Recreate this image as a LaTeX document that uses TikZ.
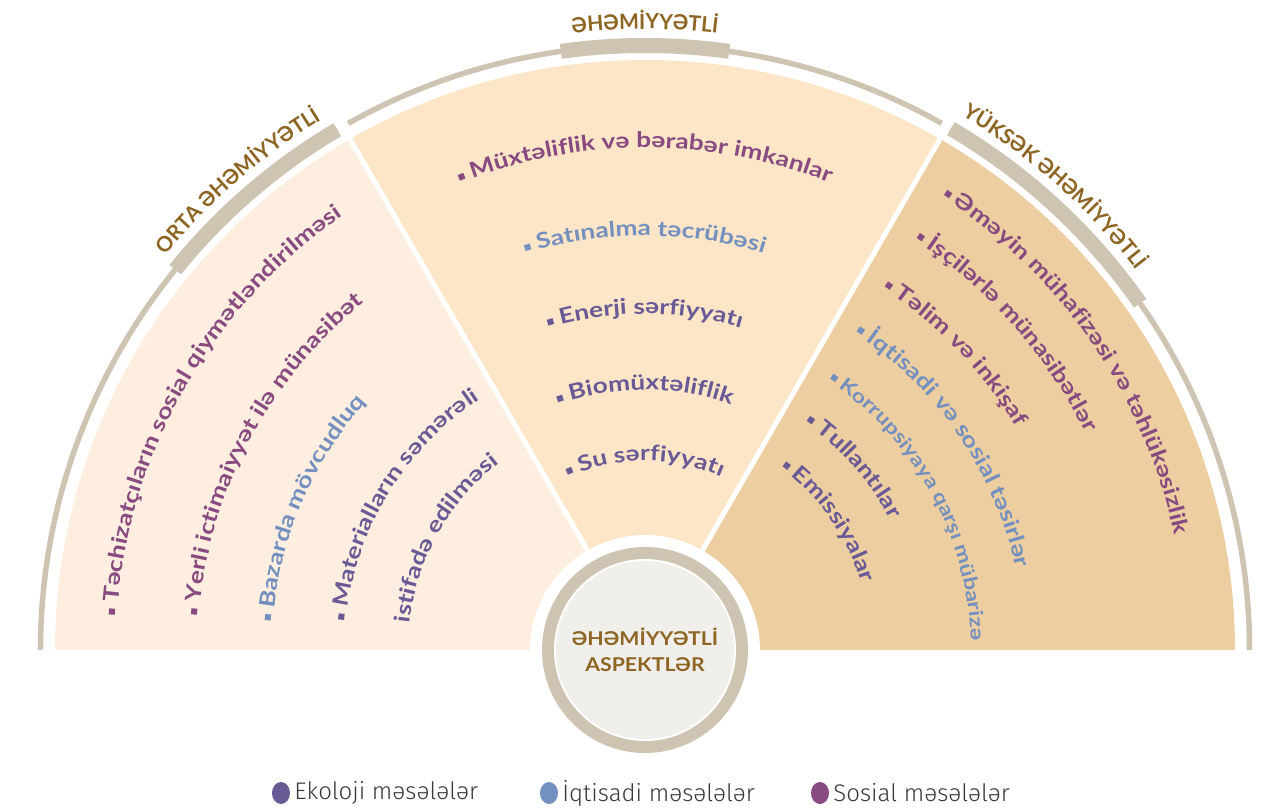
\documentclass[tikz,border=0pt]{standalone}
\usepackage{fontspec}
\setmainfont{Lato}
\newfontfamily\lato{Lato}
\newfontfamily\itemfam{Lato}[FakeStretch=1.22]
\newfontfamily\hubfam{Lato}[FakeStretch=1.12]
\newfontfamily\legfont{Fira Sans Light}
\usepackage{tikz}
\usetikzlibrary{decorations.text,shapes.geometric,positioning}
\definecolor{social}{HTML}{884A80}
\definecolor{econ}{HTML}{7490BE}
\definecolor{eco}{HTML}{695A96}
\definecolor{bandgray}{HTML}{CEC4B2}
\definecolor{headbrown}{HTML}{8E6522}
\definecolor{fillleft}{HTML}{FEEEDF}
\definecolor{fillmid}{HTML}{FDE5C7}
\definecolor{fillright}{HTML}{EDCEA0}
\definecolor{hublight}{HTML}{F0EFEB}
\newcommand{\sqb}{\rule[2.5pt]{6pt}{6pt}}
\newcommand{\itemfont}{\itemfam\bfseries\fontsize{21.5}{24}\selectfont}
\newcommand{\smallitemfont}{\itemfam\bfseries\fontsize{19.2}{22}\selectfont}
\newcommand{\headfont}{\lato\bfseries\fontsize{21}{22}\selectfont}

\begin{document}
\begin{tikzpicture}[x=1pt, y=1pt, node distance=4pt]
	\tikzstyle{band} = [draw=bandgray, line width=15pt]
	\tikzstyle{rim} = [draw=bandgray, line width=5.5pt]
	\tikzstyle{item} = [decorate, decoration={text along path, text align=left}]
	\tikzstyle{citem} = [decorate, decoration={text along path, text align=center}]
	\tikzstyle{head} = [decorate, decoration={text along path, text align=center, text color=headbrown}]
	\tikzstyle{dot} = [ellipse, minimum width=18pt, minimum height=22pt, inner sep=0pt]
	\tikzstyle{legend} = [font=\legfont\fontsize{24}{26}\selectfont, text=black!78, inner sep=0pt]
	\useasboundingbox (-645,-159) rectangle (623,650);

	\draw[rim] (180:604.5pt) arc[start angle=180, end angle=120.6, radius=604.5pt];
	\draw[rim] (119.4:604.5pt) arc[start angle=119.4, end angle=60.6, radius=604.5pt];
	\draw[rim] (59.6:604.5pt) arc[start angle=59.6, end angle=0, radius=604.5pt];
	\draw[band] (141:604.5pt) arc[start angle=141, end angle=120.6, radius=604.5pt];
	\draw[band] (98:604.5pt) arc[start angle=98, end angle=82, radius=604.5pt];
	\draw[band] (59.6:604.5pt) arc[start angle=59.6, end angle=35, radius=604.5pt];

	\fill[fillleft] (0,0) -- (120:590pt) arc[start angle=120, end angle=180, radius=590pt] -- cycle;
	\fill[fillmid] (0,0) -- (60:590pt) arc[start angle=60, end angle=120, radius=590pt] -- cycle;
	\fill[fillright] (0,0) -- (0:590pt) arc[start angle=0, end angle=60, radius=590pt] -- cycle;
	\draw[white, line width=5pt] (0,0) -- (120:596pt) (0,0) -- (60:596pt);

	\fill[white] (0,0) circle[radius=115pt];
	\fill[bandgray] (0,0) circle[radius=103pt];
	\fill[white] (0,0) circle[radius=91pt];
	\fill[hublight] (0,0) circle[radius=89pt];
	\node[align=center, text=headbrown, font=\hubfam\bfseries\fontsize{19}{26}\selectfont] (hub) at (0,0) {ƏHƏMİYYƏTLİ\\ASPEKTLƏR};

	\path[head, decoration={text={|\headfont|ORTA ƏHƏMİYYƏTLİ}}] (151:621pt) arc[start angle=151, end angle=111, radius=621pt];
	\path[head, decoration={text={|\headfont|ƏHƏMİYYƏTLİ}}] (110:621pt) arc[start angle=110, end angle=70, radius=621pt];
	\path[head, decoration={text={|\headfont|YÜKSƏK ƏHƏMİYYƏTLİ}}] (68.5:621pt) arc[start angle=68.5, end angle=28.5, radius=621pt];

	\path[item, decoration={text color=social, text={|\itemfont|{\sqb} Təchizatçıların sosial qiymətləndirilməsi}}] (176.2:529pt) arc[start angle=176.2, end angle=105, radius=529pt];
	\path[item, decoration={text color=social, text={|\itemfont|{\sqb} Yerli ictimaiyyət ilə münasibət}}] (175.5:447pt) arc[start angle=175.5, end angle=105, radius=447pt];
	\path[item, decoration={text color=econ, text={|\itemfont|{\sqb} Bazarda mövcudluq}}] (175.5:373pt) arc[start angle=175.5, end angle=105, radius=373pt];
	\path[item, decoration={text color=eco, text={|\itemfont|{\sqb} Materialların səmərəli}}] (174.3:300pt) arc[start angle=174.3, end angle=100, radius=300pt];
	\path[item, decoration={text color=eco, text={|\itemfont|istifadə edilməsi}}] (173.6:237pt) arc[start angle=173.6, end angle=100, radius=237pt];

	\path[citem, decoration={text color=social, text={|\itemfont|{\sqb} Müxtəliflik və bərabər imkanlar}}] (150:502pt) arc[start angle=150, end angle=30, radius=502pt];
	\path[citem, decoration={text color=econ, text={|\itemfont|{\sqb} Satınalma təcrübəsi}}] (150:414pt) arc[start angle=150, end angle=30, radius=414pt];
	\path[citem, decoration={text color=eco, text={|\itemfont|{\sqb} Enerji sərfiyyatı}}] (150:336pt) arc[start angle=150, end angle=30, radius=336pt];
	\path[citem, decoration={text color=eco, text={|\itemfont|{\sqb} Biomüxtəliflik}}] (150:260pt) arc[start angle=150, end angle=30, radius=260pt];
	\path[citem, decoration={text color=eco, text={|\itemfont|{\sqb} Su sərfiyyatı}}] (150:189pt) arc[start angle=150, end angle=30, radius=189pt];

	\path[item, decoration={text color=social, text={|\itemfont|{\sqb} Əməyin mühafizəsi və təhlükəsizlik}}] (56.7:542pt) arc[start angle=56.7, end angle=-5, radius=542pt];
	\path[item, decoration={text color=social, text={|\itemfont|{\sqb} İşçilərlə münasibətlər}}] (56.6:491pt) arc[start angle=56.6, end angle=-5, radius=491pt];
	\path[item, decoration={text color=social, text={|\itemfont|{\sqb} Təlim və inkişaf}}] (56.6:433pt) arc[start angle=56.6, end angle=-5, radius=433pt];
	\path[item, decoration={text color=econ, text={|\itemfont|{\sqb} İqtisadi və sosial təsirlər}}] (56.4:380pt) arc[start angle=56.4, end angle=-5, radius=380pt];
	\path[item, decoration={text color=econ, text={|\smallitemfont|{\sqb} Korrupsiyaya qarşı mübarizə}}] (55.7:326pt) arc[start angle=55.7, end angle=-10, radius=326pt];
	\path[item, decoration={text color=eco, text={|\itemfont|{\sqb} Tullantılar}}] (54.8:278pt) arc[start angle=54.8, end angle=-5, radius=278pt];
	\path[item, decoration={text color=eco, text={|\itemfont|{\sqb} Emissiyalar}}] (53.2:227pt) arc[start angle=53.2, end angle=-5, radius=227pt];

	\node[dot, fill=eco] (ecodot) at (-364,-143) {};
	\node[legend, right=of ecodot] (ecotext) {Ekoloji məsələlər};
	\node[dot, fill=econ] (econdot) at (-96,-143) {};
	\node[legend, right=of econdot] (econtext) {İqtisadi məsələlər};
	\node[dot, fill=social] (socdot) at (175,-143) {};
	\node[legend, right=of socdot] (soctext) {Sosial məsələlər};
\end{tikzpicture}
\end{document}
